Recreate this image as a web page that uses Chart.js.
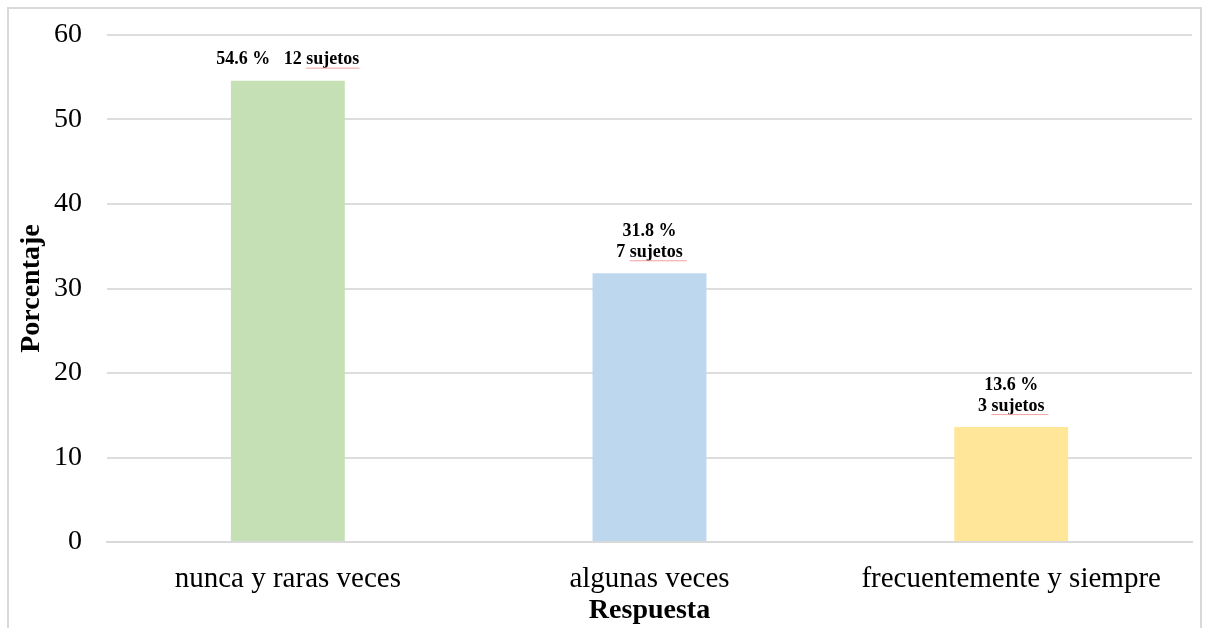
<!DOCTYPE html>
<html>
<head>
<meta charset="utf-8">
<script src="https://cdn.jsdelivr.net/npm/chart.js@4/dist/chart.umd.min.js"></script>
<style>
  html, body { margin: 0; padding: 0; background: #ffffff; }
  canvas { display: block; }
</style>
</head>
<body>
<canvas id="c" width="1209" height="628"></canvas>
<script>
const categories = ['nunca y raras veces', 'algunas veces', 'frecuentemente y siempre'];
const percentages = [54.6, 31.8, 13.6];
const subjects = [12, 7, 3];
const barColors = ['#C5E0B4', '#BDD7EE', '#FFE699'];
const yTicks = [0, 10, 20, 30, 40, 50, 60];
const xTitle = 'Respuesta';
const yTitle = 'Porcentaje';

const SERIF = "'Liberation Serif', 'Times New Roman', serif";

const borderPlugin = {
  id: 'frame',
  beforeDraw(chart) {
    const ctx = chart.ctx;
    ctx.save();
    ctx.fillStyle = '#ffffff';
    ctx.fillRect(0, 0, chart.width, chart.height);
    ctx.strokeStyle = '#d9d9d9';
    ctx.lineWidth = 2;
    ctx.strokeRect(8, 8, 1193, 700);
    ctx.restore();
  }
};

const labelPlugin = {
  id: 'barLabels',
  afterDatasetsDraw(chart) {
    const ctx = chart.ctx;
    const meta = chart.getDatasetMeta(0);
    ctx.save();
    ctx.font = "bold 18px " + SERIF;
    ctx.fillStyle = '#000000';
    ctx.textAlign = 'center';
    ctx.textBaseline = 'middle';
    meta.data.forEach((bar, i) => {
      const pct = percentages[i].toFixed(1) + ' %';
      const subj = subjects[i] + ' sujetos';
      const lines = i === 0 ? [pct + '\u00a0\u00a0\u00a0' + subj] : [pct, subj];
      const lastY = bar.y - 21;
      lines.forEach((t, k) => {
        const y = lastY - (lines.length - 1 - k) * 21;
        ctx.fillText(t, bar.x, y);
        if (k === lines.length - 1) {
          const full = ctx.measureText(t).width;
          const word = ctx.measureText('sujetos').width;
          const endX = bar.x + full / 2;
          const startX = endX - word;
          ctx.save();
          ctx.strokeStyle = '#f2a0a0';
          ctx.lineWidth = 1;
          ctx.beginPath();
          ctx.moveTo(startX, y + 8.5);
          ctx.lineTo(endX + (i === 0 ? 0 : 4), y + 8.5);
          ctx.stroke();
          ctx.restore();
        }
      });
    });
    ctx.restore();
  }
};

new Chart(document.getElementById('c'), {
  type: 'bar',
  data: {
    labels: categories,
    datasets: [{
      data: percentages,
      backgroundColor: barColors,
      borderWidth: 0,
      categoryPercentage: 1,
      barPercentage: 0.315
    }]
  },
  options: {
    responsive: false,
    animation: false,
    devicePixelRatio: 1,
    layout: { padding: { left: 0, right: 17, top: 35, bottom: 0 } },
    plugins: { legend: { display: false }, tooltip: { enabled: false } },
    scales: {
      x: {
        grid: { display: false, drawTicks: false },
        border: { display: true, color: '#d9d9d9', width: 2 },
        ticks: { color: '#000000', font: { family: SERIF, size: 29 }, padding: 20, maxRotation: 0 },
        title: { display: true, text: xTitle, color: '#000000', font: { family: SERIF, size: 28, weight: 'bold' }, padding: { top: 0, bottom: 0 } },
        afterFit(scale) { scale.height = 86; scale.paddingLeft = 0; scale.paddingRight = 0; }
      },
      y: {
        min: 0,
        max: 60,
        afterBuildTicks(scale) { scale.ticks = yTicks.map(v => ({ value: v })); },
        grid: { color: '#dddddd', lineWidth: 2, drawTicks: false },
        border: { display: false },
        ticks: { color: '#000000', font: { family: SERIF, size: 28 }, padding: 25 },
        title: { display: true, text: yTitle, color: '#000000', font: { family: SERIF, size: 28, weight: 'bold' }, padding: { top: 15, bottom: 0 } },
        afterFit(scale) { scale.width = 107; scale.paddingTop = 0; scale.paddingBottom = 0; }
      }
    }
  },
  plugins: [borderPlugin, labelPlugin]
});
</script>
</body>
</html>
